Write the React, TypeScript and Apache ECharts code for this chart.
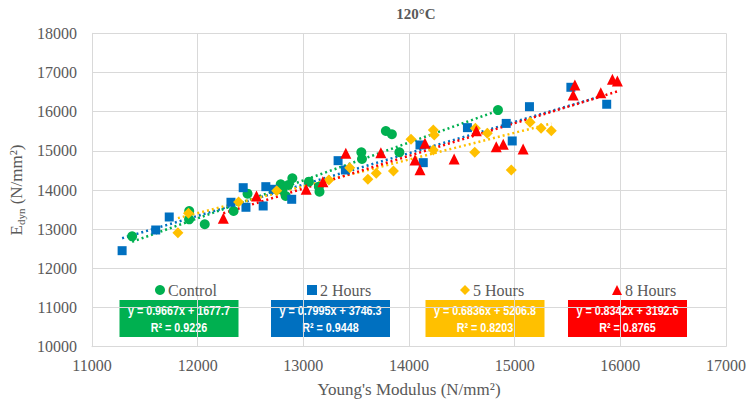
import React, { useEffect, useRef } from "react";
import * as echarts from "echarts";

const seriesNames = ["Control", "2 Hours", "5 Hours", "8 Hours"];

const controlData: number[][] = [
  [11380, 12818], [11920, 13465], [11920, 13252], [12067, 13125], [12340, 13465],
  [12472, 13906], [12786, 14146], [12801, 14000], [12833, 13847], [12858, 14128],
  [12896, 14299], [13053, 14213], [13147, 14085], [13153, 13957], [13549, 14963],
  [13555, 14792], [13781, 15507], [13838, 15422], [13909, 14963], [14842, 16040],
];
const hours2Data: number[][] = [
  [11285, 12451], [11603, 12979], [11731, 13311], [12315, 13687], [12431, 14059],
  [12457, 13559], [12620, 13592], [12645, 14085], [12717, 14018], [12890, 13763],
  [13329, 14749], [13398, 14511], [14104, 15150], [14135, 14698], [14553, 15592],
  [14920, 15700], [14977, 15252], [15140, 16127], [15532, 16622], [15871, 16189],
];
const hours5Data: number[][] = [
  [11813, 12911], [11913, 13406], [12387, 13694], [12748, 13983], [13241, 14256],
  [13439, 14570], [13611, 14273], [13690, 14427], [13853, 14486], [14019, 15295],
  [14230, 15532], [14239, 15405], [14230, 15022], [14628, 15576], [14622, 14963],
  [14741, 15449], [14968, 14511], [15146, 15729], [15250, 15576], [15347, 15515],
];
const hours8Data: number[][] = [
  [12243, 13278], [12557, 13847], [13027, 14018], [13185, 14213], [13402, 14937],
  [13734, 14953], [14057, 14766], [14104, 14520], [14151, 15193], [14427, 14792],
  [14637, 15515], [14826, 15106], [14892, 15167], [15080, 15047], [15554, 16426],
  [15570, 16681], [15815, 16485], [15925, 16826], [15972, 16783],
];

const slopes = [0.9667, 0.7995, 0.6836, 0.8342];
const intercepts = [1677.7, 3746.3, 5206.8, 3192.6];
const r2Values = ["0.9226", "0.9448", "0.8203", "0.8765"];

const xTicks = [11000, 17000, 1000];
const yTicks = [10000, 18000, 1000];

const allData = [controlData, hours2Data, hours5Data, hours8Data];
const colors = ["#00B050", "#0070C0", "#FFC000", "#FF0000"];
const symbols = ["circle", "rect", "diamond", "triangle"];
const symbolSizes = [10, 9, 11, 11];
const legendLefts = [150, 302, 455, 607];
const boxLefts = [119.5, 271, 425.5, 568];

const serif = "Liberation Serif";
const txtColor = "#595959";
const boxFont = "bold 12.5px 'Liberation Sans', Arial, sans-serif";

export default function App() {
  const ref = useRef<HTMLDivElement>(null);
  useEffect(() => {
    if (!ref.current) return;
    const chart = echarts.init(ref.current, undefined, { renderer: "svg" });

    const scatterSeries = allData.map((d, i) => ({
      name: seriesNames[i],
      type: "scatter",
      data: d,
      symbol: symbols[i],
      symbolSize: symbolSizes[i],
      itemStyle: { color: colors[i], opacity: 1 },
      z: 3,
    }));

    const trendSeries = allData.map((d, i) => {
      const xs = d.map((p) => p[0]);
      const x0 = Math.min(...xs);
      const x1 = Math.max(...xs);
      return {
        name: seriesNames[i] + " trend",
        type: "line",
        data: [
          [x0, slopes[i] * x0 + intercepts[i]],
          [x1, slopes[i] * x1 + intercepts[i]],
        ],
        symbol: "none",
        lineStyle: { color: colors[i], width: 2.5, type: [2, 3] },
        z: 2,
        silent: true,
      };
    });

    const graphics: any[] = [];
    seriesNames.forEach((_, i) => {
      graphics.push({
        type: "group",
        left: boxLefts[i],
        top: 300,
        children: [
          {
            type: "rect",
            shape: { x: 0, y: 0, width: 119, height: 37 },
            style: { fill: colors[i] },
          },
          {
            type: "text",
            x: 59.5,
            y: 10.5,
            scaleX: 0.86,
            style: {
              text: `y = ${slopes[i]}x + ${intercepts[i].toFixed(1)}`,
              fill: "#fff",
              font: boxFont,
              align: "center",
              verticalAlign: "middle",
            },
          },
          {
            type: "text",
            x: 59.5,
            y: 27,
            scaleX: 0.86,
            style: {
              text: `R² = ${r2Values[i]}`,
              fill: "#fff",
              font: boxFont,
              align: "center",
              verticalAlign: "middle",
            },
          },
        ],
      });
    });

    chart.setOption({
      animation: false,
      backgroundColor: "#fff",
      textStyle: { fontFamily: serif },
      title: {
        text: "120°C",
        left: 411,
        textAlign: "center",
        top: 1,
        textStyle: { fontFamily: serif, fontSize: 15, fontWeight: "bold", color: txtColor },
      },
      legend: seriesNames.map((n, i) => ({
        data: [{ name: n, icon: symbols[i] }],
        left: legendLefts[i],
        top: 277,
        itemWidth: 10,
        itemHeight: 10,
        itemGap: 4,
        selectedMode: false,
        textStyle: { fontFamily: serif, fontSize: 16, color: txtColor, padding: [0, 0, 0, -2] },
      })),
      grid: { left: 92, right: 20, top: 33.3, bottom: 61.3 },
      xAxis: {
        type: "value",
        min: xTicks[0],
        max: xTicks[1],
        interval: xTicks[2],
        name: "Young's Modulus (N/mm²)",
        nameLocation: "middle",
        nameGap: 34,
        nameTextStyle: { fontFamily: serif, fontSize: 17, color: txtColor },
        axisLine: { show: true, lineStyle: { color: "#d9d9d9" } },
        axisTick: { show: false },
        axisLabel: {
          fontFamily: serif,
          fontSize: 16,
          color: txtColor,
          margin: 11,
          formatter: (v: number) => String(v),
        },
        splitLine: { show: true, lineStyle: { color: "#d9d9d9", width: 1 } },
      },
      yAxis: {
        type: "value",
        min: yTicks[0],
        max: yTicks[1],
        interval: yTicks[2],
        name: "{e|E}{s|dyn}{e| (N/mm²)}",
        nameLocation: "middle",
        nameGap: 62,
        nameTextStyle: {
          rich: {
            e: { fontFamily: serif, fontSize: 17, color: txtColor },
            s: { fontFamily: serif, fontSize: 11, color: txtColor, padding: [8, 0, 0, 0] },
          },
        },
        axisLine: { show: true, lineStyle: { color: "#d9d9d9" } },
        axisTick: { show: false },
        axisLabel: {
          fontFamily: serif,
          fontSize: 16,
          color: txtColor,
          margin: 15,
          formatter: (v: number) => String(v),
        },
        splitLine: { show: true, lineStyle: { color: "#d9d9d9", width: 1 } },
      },
      series: [...trendSeries, ...scatterSeries],
      graphic: graphics,
    });
    return () => chart.dispose();
  }, []);

  return (
    <div
      ref={ref}
      style={{ position: "fixed", left: 0, top: 0, width: 749, height: 408 }}
    />
  );
}
